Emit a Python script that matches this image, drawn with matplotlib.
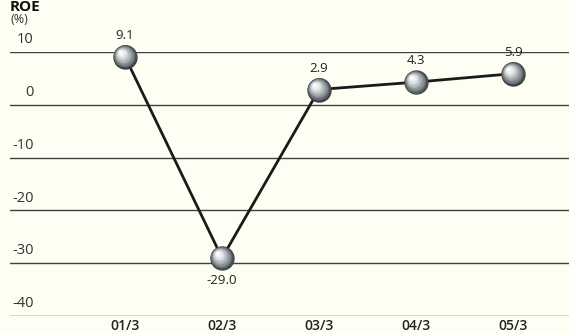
import numpy as np
import matplotlib.pyplot as plt
from matplotlib.colors import LinearSegmentedColormap

periods = ['01/3', '02/3', '03/3', '04/3', '05/3']
roe = [9.1, -29.0, 2.9, 4.3, 5.9]
y_ticks = [10, 0, -10, -20, -30, -40]

bg = '#fffef3'
plt.rcParams['font.family'] = ['Open Sans', 'DejaVu Sans']

fig = plt.figure(figsize=(5.69, 3.33), dpi=100, facecolor=bg)
ax = fig.add_axes([0.0176, 0.051, 0.9824, 0.7928])
ax.set_facecolor(bg)
ax.set_xlim(-1.186, 4.577)
ax.set_ylim(-40, 10)

for s in ax.spines.values():
    s.set_visible(False)
ax.set_xticks([])
ax.set_yticks([])

# horizontal rules, value labels right-aligned just above each rule
for v in y_ticks:
    ax.axhline(v, color='#404040', lw=1.0, zorder=1)
    ax.text(-0.945, v + 0.9, str(v), fontsize=10.5, color='#333333',
            ha='right', va='bottom')

x = np.arange(len(periods))
ax.plot(x, roe, color='#1a1a1a', lw=2.0, zorder=2, solid_capstyle='round')

# shaded balls: stacked circles getting lighter towards the highlight
shade = LinearSegmentedColormap.from_list('ball', ['#363c40', '#767d82', '#b0b5b8', '#e4e6e7', '#ffffff'])
n = 18
for i in range(n):
    t = i / (n - 1)
    size = (17.5 * (1 - 0.92 * t)) ** 2
    off_x = -0.05 * t
    off_y = 0.9 * t
    ax.scatter(x + off_x, np.array(roe) + off_y, s=size, color=shade(t ** 0.9),
               lw=0, zorder=3 + i * 0.01, clip_on=False)

for xi, v in zip(x, roe):
    if v < 0:
        ax.text(xi, v - 3.0, f'{v:.1f}', fontsize=9.5, color='#222222',
                ha='center', va='top')
    else:
        ax.text(xi, v + 2.8, f'{v:.1f}', fontsize=9.5, color='#222222',
                ha='center', va='bottom')

for xi, p in zip(x, periods):
    ax.text(xi, -40.5, p, fontsize=10, color='#222222', fontweight='semibold',
            ha='center', va='top', clip_on=False)

fig.text(0.0176, 0.94, '(%)', fontsize=9, color='#333333', ha='left', va='center')
fig.text(0.0176, 0.999, 'ROE', fontsize=11, color='#111111', fontweight='bold',
         ha='left', va='top')

fig.savefig('out.png', dpi=100, facecolor=bg)
